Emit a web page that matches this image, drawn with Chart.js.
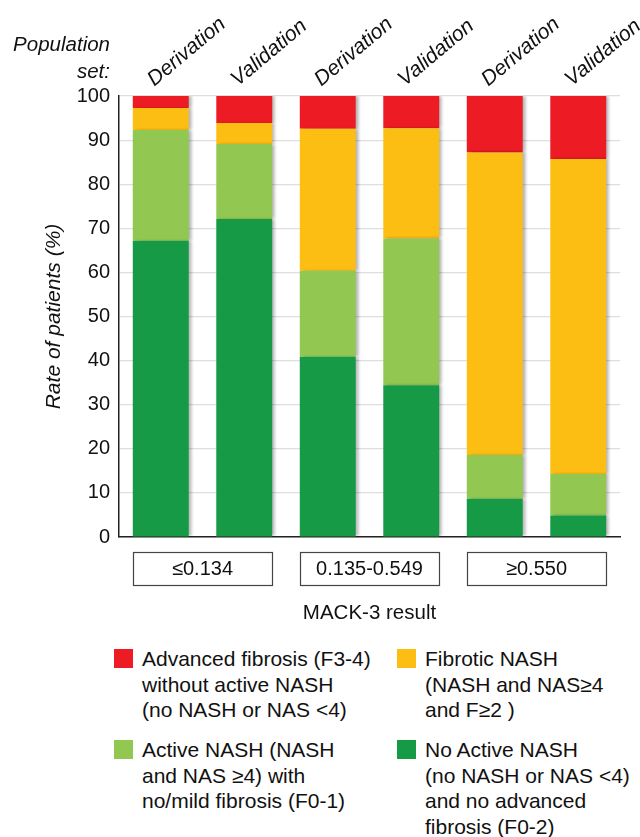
<!DOCTYPE html>
<html>
<head>
<meta charset="utf-8">
<script src="https://cdn.jsdelivr.net/npm/chart.js@4.4.1/dist/chart.umd.min.js"></script>
<style>
  body { margin: 0; background: #fff; font-family: "Liberation Sans", Arial, sans-serif; color: #111; }
  #wrap { position: relative; width: 640px; height: 837px; overflow: hidden; }
  #chartBox { position: absolute; left: 0; top: 0; width: 640px; height: 640px; }
  #popset { position: absolute; left: 0; top: 30px; width: 110px; text-align: right; font-style: italic; font-size: 20.5px; line-height: 27px; }
  .sw { position: absolute; width: 19px; height: 19px; }
  .lt { position: absolute; font-size: 21px; line-height: 25.7px; white-space: nowrap; }
</style>
</head>
<body>
<div id="wrap">
  <div id="chartBox"><canvas id="myChart"></canvas></div>
  <div id="popset">Population<br>set:</div>
  <div id="legend"></div>
</div>
<script>
const populations = ['Derivation', 'Validation', 'Derivation', 'Validation', 'Derivation', 'Validation'];
const mackGroups = ['\u22640.134', '0.135-0.549', '\u22650.550'];

// % of patients per bar, bottom to top
const noActiveNash = [67.2, 72.1, 40.9, 34.4, 8.7, 4.9];
const activeNash = [25.1, 17.0, 19.5, 33.3, 9.9, 9.4];
const fibroticNash = [5.0, 4.8, 32.2, 25.0, 68.6, 71.4];
const advancedFibrosis = [2.7, 6.1, 7.4, 7.3, 12.8, 14.3];

const colors = {
    red: '#ED1C24',
    yellow: '#FCBE13',
    light: '#92C852',
    dark: '#169A46'
};

// legend, laid out like the figure (two columns)
const legendItems = [
    { color: colors.red, lines: ['Advanced fibrosis (F3-4)', 'without active NASH', '(no NASH or NAS <4)'], x: 114, y: 649 },
    { color: colors.yellow, lines: ['Fibrotic NASH', '(NASH and NAS\u22654', 'and F\u22652 )'], x: 397, y: 649 },
    { color: colors.light, lines: ['Active NASH (NASH', 'and NAS \u22654) with', 'no/mild fibrosis (F0-1)'], x: 114, y: 740 },
    { color: colors.dark, lines: ['No Active NASH', '(no NASH or NAS <4)', 'and no advanced', 'fibrosis (F0-2)'], x: 397, y: 740 }
];
const legendEl = document.getElementById('legend');
legendItems.forEach(item => {
    const sw = document.createElement('div');
    sw.className = 'sw';
    sw.style.left = item.x + 'px';
    sw.style.top = item.y + 'px';
    sw.style.background = item.color;
    legendEl.appendChild(sw);
    const t = document.createElement('div');
    t.className = 'lt';
    t.style.left = (item.x + 28) + 'px';
    t.style.top = (item.y - 3) + 'px';
    t.innerHTML = item.lines.map(s => s.replace(/</g, '&lt;')).join('<br>');
    legendEl.appendChild(t);
});

const barShadow = {
    id: 'barShadow',
    beforeDatasetsDraw(chart) {
        const ctx = chart.ctx;
        ctx.save();
        ctx.shadowColor = 'rgba(0,0,0,0.3)';
        ctx.shadowBlur = 3;
        ctx.shadowOffsetX = 3;
        ctx.shadowOffsetY = 0;
    },
    afterDatasetsDraw(chart) {
        chart.ctx.restore();
    }
};

const groupBoxes = {
    id: 'groupBoxes',
    afterDraw(chart) {
        const ctx = chart.ctx;
        const meta = chart.getDatasetMeta(0);
        const top = chart.chartArea.bottom + 15;
        ctx.save();
        ctx.strokeStyle = '#444';
        ctx.lineWidth = 1.2;
        ctx.fillStyle = '#111';
        ctx.font = '20px "Liberation Sans", Arial, sans-serif';
        ctx.textAlign = 'center';
        ctx.textBaseline = 'middle';
        mackGroups.forEach((g, i) => {
            const a = meta.data[i * 2];
            const b = meta.data[i * 2 + 1];
            const x1 = Math.round(a.x - a.width / 2);
            const x2 = Math.round(b.x + b.width / 2);
            ctx.strokeRect(x1 + 0.5, top + 0.5, x2 - x1, 33);
            ctx.fillText(g, (x1 + x2) / 2, top + 17.5);
        });
        ctx.restore();
    }
};

function noPad(scale) {
    scale.paddingLeft = 0;
    scale.paddingRight = 0;
    scale.paddingTop = 0;
    scale.paddingBottom = 0;
}

const ctx = document.getElementById('myChart');
new Chart(ctx, {
    type: 'bar',
    data: {
        labels: populations,
        datasets: [
            { label: 'No Active NASH', data: noActiveNash, backgroundColor: colors.dark },
            { label: 'Active NASH', data: activeNash, backgroundColor: colors.light },
            { label: 'Fibrotic NASH', data: fibroticNash, backgroundColor: colors.yellow },
            { label: 'Advanced fibrosis', data: advancedFibrosis, backgroundColor: colors.red }
        ]
    },
    options: {
        responsive: true,
        maintainAspectRatio: false,
        animation: false,
        layout: { padding: { left: 0, right: 20, top: 0, bottom: 0 } },
        datasets: {
            bar: { categoryPercentage: 1, barPercentage: 0.67, borderWidth: 0 }
        },
        scales: {
            x: {
                stacked: true,
                position: 'bottom',
                grid: { display: false },
                border: { display: true, color: '#222', width: 1.5 },
                ticks: { display: false },
                title: {
                    display: true,
                    text: 'MACK-3 result',
                    color: '#111',
                    font: { size: 20.5, family: '"Liberation Sans", Arial, sans-serif' },
                    padding: { top: 0, bottom: 14 }
                },
                afterFit(scale) { scale.height = 103; noPad(scale); }
            },
            x2: {
                type: 'category',
                labels: populations,
                position: 'top',
                offset: true,
                grid: { display: false },
                border: { display: false },
                ticks: {
                    autoSkip: false,
                    minRotation: 40,
                    maxRotation: 40,
                    padding: -4,
                    labelOffset: 6,
                    color: '#111',
                    font: { size: 21, style: 'italic', family: '"Liberation Sans", Arial, sans-serif' }
                },
                afterFit(scale) { scale.height = 96; noPad(scale); }
            },
            y: {
                stacked: true,
                min: 0,
                max: 100,
                ticks: {
                    stepSize: 10,
                    padding: 9,
                    color: '#111',
                    font: { size: 20, family: '"Liberation Sans", Arial, sans-serif' }
                },
                grid: { color: '#dedede', lineWidth: 1.2, drawTicks: false },
                border: { color: '#222', width: 1.5 },
                title: {
                    display: true,
                    text: 'Rate of patients (%)',
                    color: '#111',
                    font: { size: 21, style: 'italic', family: '"Liberation Sans", Arial, sans-serif' },
                    padding: { top: 42, bottom: 0 }
                },
                afterFit(scale) { scale.width = 119; noPad(scale); }
            }
        },
        plugins: {
            legend: { display: false },
            tooltip: { enabled: false }
        }
    },
    plugins: [barShadow, groupBoxes]
});
</script>
</body>
</html>
